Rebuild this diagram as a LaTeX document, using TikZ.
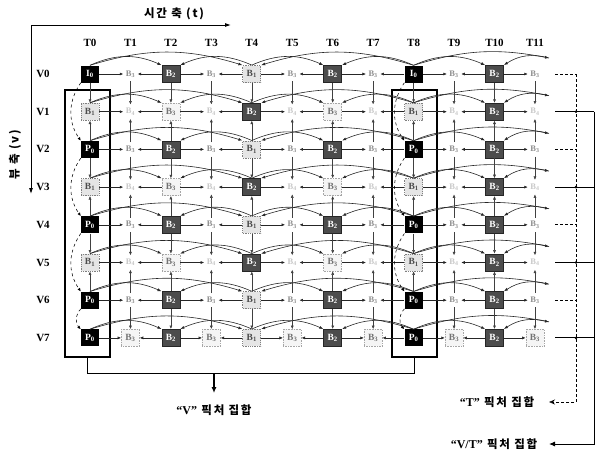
\documentclass[tikz,border=0pt]{standalone}
\usepackage{fontspec}
\setmainfont{Liberation Serif}
\newfontfamily\cjk{Noto Sans CJK KR}
\usetikzlibrary{arrows.meta}
\tikzset{
  cell/.style={rectangle, minimum width=18pt, minimum height=17pt, inner sep=0pt, font=\bfseries\fontsize{9.5}{10}\selectfont},
  cI/.style={cell, fill=black, text=white},
  cP/.style={cI},
  cD/.style={cell, fill=black!70, draw=black!85, line width=0.8pt, text=white},
  cL/.style={cell, fill=black!10, draw=black!50, densely dotted, line width=0.8pt, text=black!70},
  cM/.style={cell, fill=black!4, draw=black!35, densely dotted, line width=0.6pt, text=black!55},
  cF/.style={cell, minimum width=14pt, minimum height=14pt, text=black!45, font=\bfseries\fontsize{8.5}{9}\selectfont},
  cE/.style={cF, text=black!22},
  harr/.style={-{Latex[length=3.5pt,width=3pt]}, line width=0.55pt, black!85},
  varr/.style={-{Latex[length=3.5pt,width=3pt]}, line width=0.5pt, black!75},
  arcc/.style={-{Latex[length=4pt,width=3pt]}, line width=0.6pt, black!85},
  ivp/.style={-{Latex[length=3.5pt,width=3pt]}, dashed, line width=0.55pt},
  hdr/.style={font=\bfseries\fontsize{11}{12}\selectfont},
  frame/.style={draw, line width=1.3pt, inner sep=0pt, minimum width=45pt, minimum height=267pt},
  ktxt/.style={font=\cjk\bfseries\fontsize{11.5}{13}\selectfont\addfontfeature{LetterSpace=15}},
}
\newcommand\labI{I\textsubscript{0}}
\newcommand\labP{P\textsubscript{0}}
\newcommand\labD{B\textsubscript{2}}
\newcommand\labL{B\textsubscript{1}}
\newcommand\labM{B\textsubscript{3}}
\newcommand\labF{B\textsubscript{3}}
\newcommand\labE{B\textsubscript{4}}
\newcommand\qlab[1]{{\rmfamily\bfseries\fontsize{12}{13}\selectfont “#1”}}
\def\rowlistA{I,F,D,F,L,F,D,F,I,F,D,F}
\def\rowlistB{L,E,M,E,D,E,M,E,L,E,D,E}
\def\rowlistC{P,F,D,F,L,F,D,F,P,F,D,F}
\def\rowlistD{L,E,M,E,D,E,M,E,L,E,D,E}
\def\rowlistE{P,F,D,F,L,F,D,F,P,F,D,F}
\def\rowlistF{L,E,M,E,D,E,M,E,L,E,D,E}
\def\rowlistG{P,F,D,F,L,F,D,F,P,F,D,F}
\def\rowlistH{P,M,D,M,L,M,D,M,P,M,D,M}
\begin{document}
\begin{tikzpicture}[x=1pt,y=-1pt]
\useasboundingbox (0,0) rectangle (595,451);
% headers
\foreach \i in {0,...,11} \node[hdr] (h\i) at ({90+40.45*\i},43) {T\i};
\foreach \j in {0,...,7} \node[hdr] (v\j) at (43,{74+37.7*\j}) {V\j};
% frames
\node[frame] (lbox) at (87.5,223.5) {};
\node[frame] (rbox) at (414.5,223.5) {};
% cells
\foreach \j/\r in {0/A,1/B,2/C,3/D,4/E,5/F,6/G,7/H}{
  \expandafter\let\expandafter\lst\csname rowlist\r\endcsname
  \foreach \t [count=\i from 0] in \lst {
    \node[c\t] (n\i-\j) at ({90+40.45*\i},{74+37.7*\j}) {\csname lab\t\endcsname};
  }
}
% temporal connectors
\foreach \j in {0,...,7}{
  \foreach \i in {0,2,...,10}{
    \pgfmathtruncatemacro\ip{\i+1}
    \draw[harr] (n\i-\j) -- (n\ip-\j);
    \ifnum\i>0
      \pgfmathtruncatemacro\im{\i-1}
      \draw[harr] (n\i-\j) -- (n\im-\j);
    \fi
  }
  \draw[arcc] (n0-\j.north) to[bend left=24] (n2-\j.north west);
  \draw[arcc] (n4-\j.north) to[bend right=24] (n2-\j.north east);
  \draw[arcc] (n0-\j.north) to[bend left=17] (n4-\j.north west);
  \draw[arcc] (n8-\j.north) to[bend right=17] (n4-\j.north east);
  \draw[arcc] (n4-\j.north) to[bend left=24] (n6-\j.north west);
  \draw[arcc] (n8-\j.north) to[bend right=24] (n6-\j.north east);
  \draw[arcc] (n8-\j.north) to[bend left=24] (n10-\j.north west);
  \coordinate (e\j) at (549,{74+37.7*\j-16});
  \draw[arcc] (n8-\j.north) to[bend left=14] (e\j);
  \draw[arcc] (e\j) to[bend right=24] (n10-\j.north east);
}
% inter-view connectors
\foreach \j/\a/\b in {1/0/2,3/2/4,5/4/6}{
  \foreach \i in {0,...,11}{
    \draw[varr] (n\i-\a) -- (n\i-\j);
    \draw[varr] (n\i-\b) -- (n\i-\j);
  }
}
\foreach \i in {1,...,7,9,10,11} \draw[varr] (n\i-6) -- (n\i-7);
\foreach \i in {0,8}{
  \foreach \a/\b/\bb in {0/2/35,2/4/35,4/6/35,6/7/45}{
    \draw[ivp] (n\i-\a.south west) to[bend right=\bb] (n\i-\b.north west);
  }
}
% V set bracket
\draw[line width=1.3pt] (lbox.south) -- ++(0,16) coordinate (lc) -| (rbox.south);
\coordinate (vm) at (214,373.5);
\node[ktxt] (vlab) at (214,410) {\qlab{V} 픽처 집합};
\draw[line width=1.3pt, -{Latex[length=6pt,width=5pt]}] (vm) -- ([yshift=8pt]vlab.north);
% right brackets
\foreach \j in {0,2,4,6}{
  \coordinate (ra\j) at (555,{74+37.7*\j});
  \coordinate (rb\j) at (576,{74+37.7*\j});
  \draw[densely dashed, line width=0.8pt] (ra\j) -- (rb\j);
}
\foreach \j in {1,3,5,7}{
  \coordinate (ra\j) at (555,{74+37.7*\j});
  \coordinate (rb\j) at (594,{74+37.7*\j});
  \draw[line width=0.9pt] (ra\j) -- (rb\j);
  \fill (576,{74+37.7*\j}) circle (1.4pt);
}
\node[ktxt] (tlab) at (497,402) {\qlab{T} 픽처 집합};
\node[ktxt] (vtlab) at (494,444) {\qlab{V/T} 픽처 집합};
\coordinate (tend) at (549,402);
\coordinate (vtend) at (549,444);
\draw[densely dashed, line width=0.8pt, -{Stealth[open,length=6pt,width=5pt]}] (rb0) |- (tend);
\draw[line width=0.9pt, -{Latex[length=6pt,width=5pt]}] (rb1) |- (vtend);
% axes
\coordinate (org) at (31,25);
\coordinate (tax) at (231,25);
\coordinate (vax) at (31,194);
\draw[line width=0.9pt, -{Latex[length=6pt,width=4pt]}] (org) -- (tax);
\draw[line width=0.9pt, -{Latex[length=6pt,width=4pt]}] (org) -- (vax);
\node[ktxt] (tlabel) at (174,14) {시간 축 (t)};
\node[ktxt, rotate=90] (vlabel) at (15,155) {뷰 축 (v)};
\end{tikzpicture}
\end{document}
